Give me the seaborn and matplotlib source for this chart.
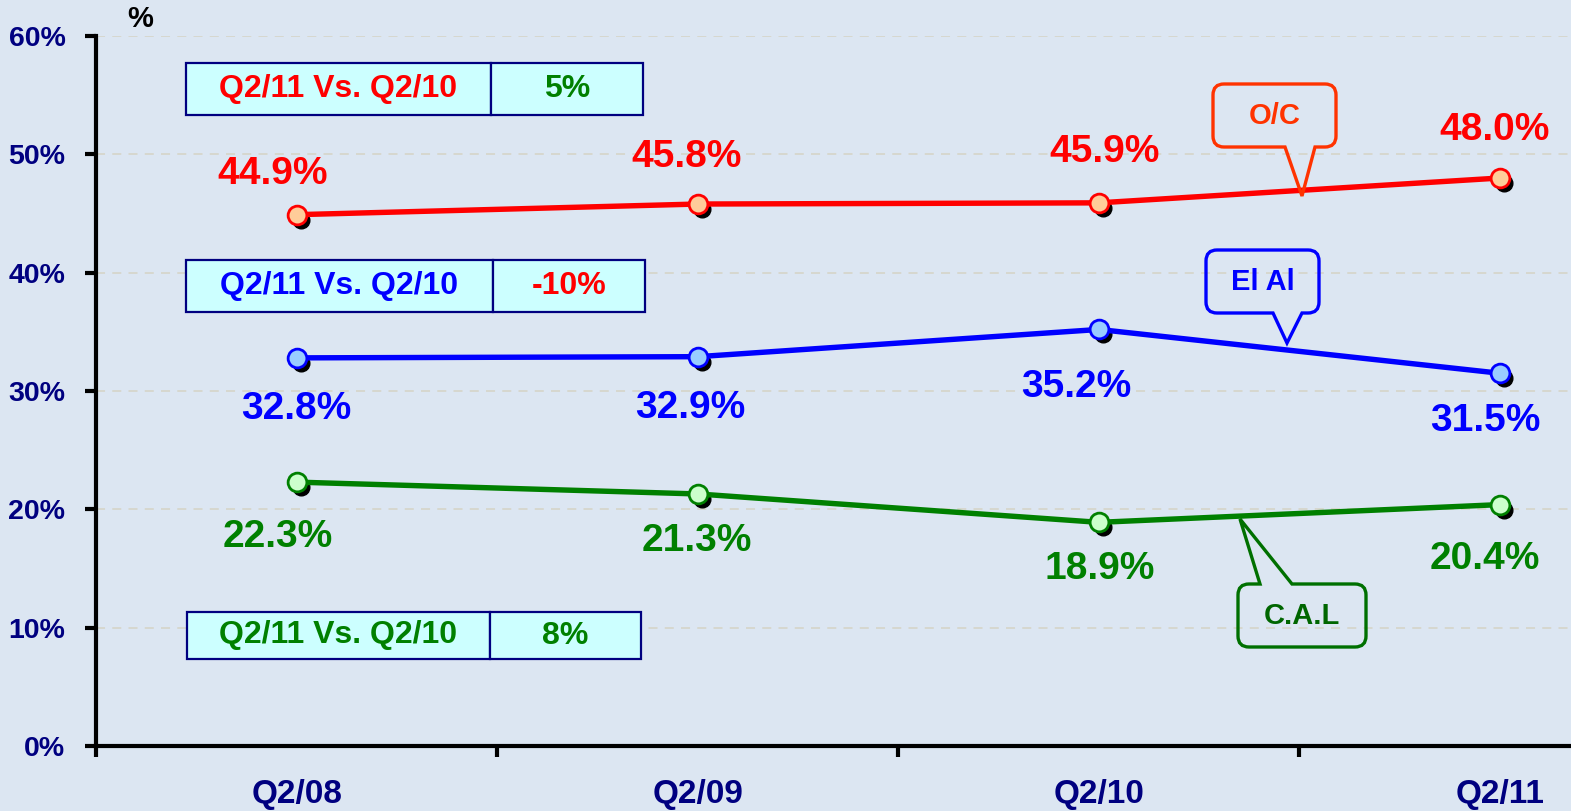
import numpy as np
import pandas as pd
import seaborn as sns
import matplotlib.pyplot as plt
from matplotlib.path import Path
from matplotlib.patches import PathPatch, Rectangle
from matplotlib.transforms import Affine2D, offset_copy

# data
quarters = ['Q2/08', 'Q2/09', 'Q2/10', 'Q2/11']
oc_vals = [44.9, 45.8, 45.9, 48.0]
elal_vals = [32.8, 32.9, 35.2, 31.5]
cal_vals = [22.3, 21.3, 18.9, 20.4]
y_ticks = [0, 10, 20, 30, 40, 50, 60]

# comparison boxes: (left text, left colour, right text, right colour)
cmp_rows = [
    ('Q2/11 Vs. Q2/10', '#FF0000', '5%', '#008000'),
    ('Q2/11 Vs. Q2/10', '#0000FF', '-10%', '#FF0000'),
    ('Q2/11 Vs. Q2/10', '#008000', '8%', '#008000'),
]

# label offsets in pixels, relative to each point
oc_off = [(-24, 41), (-11, 47), (6, 51), (-5, 48)]
elal_off = [(0, -51), (-7, -51), (-23, -58), (-15, -48)]
cal_off = [(-19, -55), (-1, -47), (1, -47), (-15, -54)]

W, H = 1571, 811
BG = '#DCE6F2'

sns.set_theme(style='white')
plt.rcParams['font.family'] = ['Liberation Sans', 'DejaVu Sans']
plt.rcParams['font.weight'] = 'bold'

fig = plt.figure(figsize=(W / 100, H / 100), dpi=100, facecolor=BG)
ax = fig.add_axes([96 / W, (H - 746) / H, (W - 96) / W, 710 / H])
ax.set_facecolor(BG)

df = pd.DataFrame({'pos': np.arange(len(quarters)), 'O/C': oc_vals,
                   'El Al': elal_vals, 'C.A.L': cal_vals})

series = [
    ('O/C', '#FF0000', '#FFCC99', oc_off),
    ('El Al', '#0000FF', '#99CCFF', elal_off),
    ('C.A.L', '#008000', '#CCFFCC', cal_off),
]

shadow_tr = offset_copy(ax.transData, fig=fig, x=4, y=-5, units='dots')
for name, col, fill, offs in series:
    ax.plot(df['pos'], df[name], 'o', ms=12, color='black', mec='black',
            transform=shadow_tr, zorder=2, clip_on=False)
    sns.lineplot(data=df, x='pos', y=name, color=col, linewidth=3.9,
                 marker='o', markersize=13.5, markerfacecolor=fill,
                 markeredgecolor=col, markeredgewidth=2, ax=ax, zorder=3,
                 clip_on=False)
    for i, v in enumerate(df[name]):
        ax.annotate(f'{v:.1f}%', (i, v), xytext=offs[i], textcoords='offset pixels',
                    ha='center', va='center', fontsize=28, color=col,
                    fontweight='bold', zorder=5)

ax.set_xlim(-0.5, 3.177)
ax.set_ylim(0, 60)
ax.set_xlabel('')
ax.set_ylabel('')

ax.set_yticks(y_ticks)
ax.set_yticklabels([f'{t}%' for t in y_ticks])
ax.set_xticks(range(len(quarters)))
ax.set_xticklabels(quarters)
ax.set_xticks([-0.5, 0.5, 1.5, 2.5], minor=True)
ax.tick_params(axis='y', direction='out', length=8, width=3, color='black',
               labelsize=20.5, labelcolor='#000080', pad=14, left=True)
ax.tick_params(axis='x', which='major', length=0, labelsize=24,
               labelcolor='#000080', pad=24)
ax.tick_params(axis='x', which='minor', direction='out', length=8, width=3,
               color='black', bottom=True)
for lab in ax.get_xticklabels() + ax.get_yticklabels():
    lab.set_fontweight('bold')

for t in y_ticks[1:]:
    ax.axhline(t, color='#D6D6CC', lw=1.3, ls=(0, (5, 4)), zorder=0)

for s in ['top', 'right']:
    ax.spines[s].set_visible(False)
for s in ['left', 'bottom']:
    ax.spines[s].set_color('black')
    ax.spines[s].set_linewidth(3)

fig.text(140 / W, 1 - 19 / H, '%', ha='center', va='center', fontsize=21,
         fontweight='bold', color='black')

# pixel coordinates, origin at top-left
px = Affine2D().scale(1 / W, -1 / H).translate(0, 1) + fig.transFigure

# comparison tables
box_geo = [(186, 63, 491, 643, 115), (186, 260, 493, 645, 312), (187, 612, 490, 641, 659)]
for (lt, lc, rt, rc), (x0, y0, xm, x1, y1) in zip(cmp_rows, box_geo):
    fig.patches.append(Rectangle((x0, y0), xm - x0, y1 - y0, transform=px,
                                 fc='#CCFFFF', ec='#000080', lw=1.6))
    fig.patches.append(Rectangle((xm, y0), x1 - xm, y1 - y0, transform=px,
                                 fc='#CCFFFF', ec='#000080', lw=1.6))
    yc = (y0 + y1) / 2
    fig.text((x0 + xm) / 2 / W, 1 - yc / H, lt, ha='center', va='center',
             fontsize=23, color=lc, fontweight='bold')
    fig.text((xm + x1) / 2 / W, 1 - yc / H, rt, ha='center', va='center',
             fontsize=23, color=rc, fontweight='bold')


def callout(x0, y0, x1, y1, bx0, bx1, tip, side, color, text, tcol, r=11):
    v = [(x0 + r, y0)]
    c = [Path.MOVETO]
    if side == 'top':
        v += [(bx0, y0), tip, (bx1, y0)]
        c += [Path.LINETO] * 3
    v += [(x1 - r, y0), (x1, y0), (x1, y0 + r), (x1, y1 - r), (x1, y1), (x1 - r, y1)]
    c += [Path.LINETO, Path.CURVE3, Path.CURVE3, Path.LINETO, Path.CURVE3, Path.CURVE3]
    if side == 'bottom':
        v += [(bx1, y1), tip, (bx0, y1)]
        c += [Path.LINETO] * 3
    v += [(x0 + r, y1), (x0, y1), (x0, y1 - r), (x0, y0 + r), (x0, y0), (x0 + r, y0), (x0 + r, y0)]
    c += [Path.LINETO, Path.CURVE3, Path.CURVE3, Path.LINETO, Path.CURVE3, Path.CURVE3, Path.CLOSEPOLY]
    fig.patches.append(PathPatch(Path(v, c), transform=px, fc='none', ec=color,
                                 lw=2.4, joinstyle='miter', zorder=6))
    fig.text((x0 + x1) / 2 / W, 1 - (y0 + y1) / 2 / H, text, ha='center',
             va='center', fontsize=21, color=tcol, fontweight='bold')


callout(1213, 84, 1336, 147, 1285, 1315, (1302, 196), 'bottom', '#FF3300', 'O/C', '#FF3300')
callout(1206, 250, 1319, 313, 1273, 1302, (1287, 343), 'bottom', '#0000FF', 'El Al', '#0000FF')
callout(1238, 584, 1366, 647, 1260, 1292, (1240, 519), 'top', '#007000', 'C.A.L', '#006600')

fig.savefig('out.png', dpi=100, facecolor=BG)
